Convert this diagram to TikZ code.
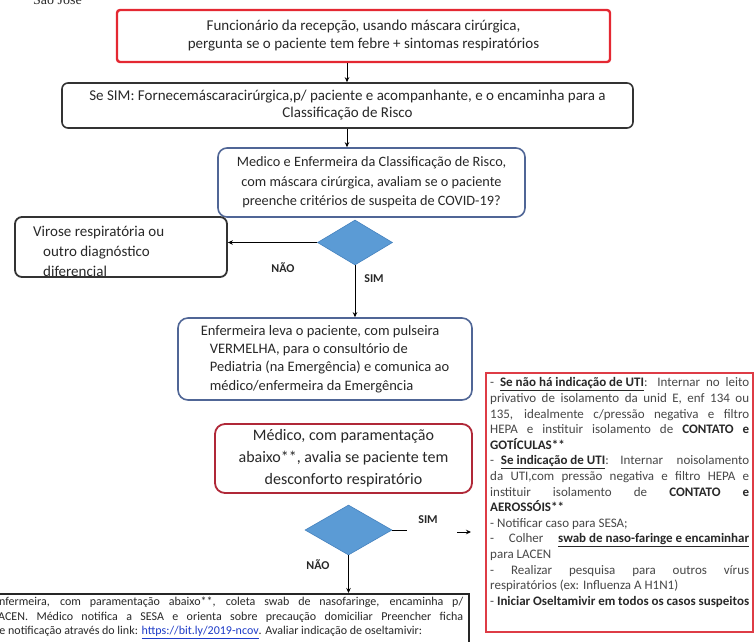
\documentclass[tikz,border=0pt]{standalone}
\usepackage{fontspec}
\setmainfont{Carlito}
\newfontfamily\serifx{Liberation Serif}
\usetikzlibrary{shapes.geometric,arrows.meta}
\definecolor{redA}{RGB}{228,40,50}
\definecolor{redB}{RGB}{176,40,56}
\definecolor{redC}{RGB}{222,60,70}
\definecolor{slate}{RGB}{80,102,150}
\definecolor{dia}{RGB}{91,155,213}
\definecolor{diaB}{RGB}{70,130,190}
\definecolor{txtc}{RGB}{40,40,40}
\definecolor{linkc}{RGB}{30,60,200}
\setlength{\parindent}{0pt}
\begin{document}
\begin{tikzpicture}[x=1pt,y=-1pt,
  box/.style={draw, fill=white, inner sep=0pt, text=txtc},
  conn/.style={draw=black, line width=0.9pt},
  arr/.style={conn, -{Stealth[length=5pt,width=4.5pt]}},
  lbl/.style={font=\fontsize{12}{14}\selectfont\bfseries, text=txtc, inner sep=0pt},
  dmd/.style={diamond, fill=dia, draw=diaB, line width=0.6pt, inner sep=0pt},
  txtblk/.style={anchor=north west, inner sep=0pt, align=left, text=txtc}]
\useasboundingbox (0,0) rectangle (754,641);
\clip (0,0) rectangle (754,641);

\node[anchor=base west, font=\serifx\fontsize{14}{15}\selectfont, text=txtc, inner sep=0pt] (sj) at (33,4) {São José};
\coordinate (ax) at (347,0);

\node[box, draw=redA, line width=2.4pt, rounded corners=3pt, minimum width=493pt, minimum height=52pt, align=center, font=\fontsize{15}{18}\selectfont] (b1) at (363.5,36) {Funcionário da recepção, usando máscara cirúrgica,\\pergunta se o paciente tem febre + sintomas respiratórios};

\node[box, draw=black!80, line width=1.6pt, rounded corners=6pt, minimum width=571pt, minimum height=45pt, align=center, font=\fontsize{15}{17}\selectfont] (b2) at (347.5,105.5) {Se SIM: Fornecemáscaracirúrgica,p/ paciente e acompanhante, e o encaminha para a\\Classificação de Risco};

\draw[arr] (b1.south -| ax) -- (b2.north -| ax);

\node[box, draw=slate, line width=1.6pt, rounded corners=9pt, minimum width=307pt, minimum height=69pt, align=center, font=\fontsize{14.3}{19.5}\selectfont] (b3) at (371.5,182.5) {Medico e Enfermeira da Classificação de Risco,\\com máscara cirúrgica, avaliam se o paciente\\preenche critérios de suspeita de COVID-19?};

\draw[arr] (b2.south -| ax) -- (b3.north -| ax);

\node[dmd, minimum width=75pt, minimum height=45pt] (d1) at (355,242.5) {};

\node[box, draw=black!80, line width=1.8pt, rounded corners=7pt, minimum width=212pt, minimum height=60pt] (b4) at (121,247) {};
\node[txtblk, font=\fontsize{15}{20}\selectfont] (b4t) at (33,226) {Virose respiratória ou\\\hspace*{10pt}outro diagnóstico\\\hspace*{10pt}diferencial};

\draw[arr] (d1.west) -- (d1.west -| b4.east);
\node[lbl] (n1) at (283,268) {NÃO};
\node[lbl] (s1) at (374,279) {SIM};

\node[box, draw=slate, line width=1.6pt, rounded corners=10pt, minimum width=294pt, minimum height=82pt, align=left, font=\fontsize{14.5}{18.3}\selectfont] (b5) at (325,359) {Enfermeira leva o paciente, com pulseira\\\hspace*{9pt}VERMELHA, para o consultório de\\\hspace*{9pt}Pediatria (na Emergência) e comunica ao\\\hspace*{9pt}médico/enfermeira da Emergência};

\draw[arr] (d1.south) -- (d1.south |- b5.north);

\node[box, draw=redB, line width=1.8pt, rounded corners=10pt, minimum width=257pt, minimum height=69pt, align=center, font=\fontsize{16}{22}\selectfont] (b6) at (343.5,458.5) {Médico, com paramentação\\abaixo**, avalia se paciente tem\\desconforto respiratório};

\node[dmd, minimum width=87pt, minimum height=50pt] (d2) at (348.5,530) {};
\coordinate (s2end) at (407,530);
\draw[conn] (d2.east) -- (s2end);
\node[lbl] (s2) at (428,520) {SIM};
\coordinate (a2s) at (457,532);
\coordinate (a2e) at (471,532);
\draw[arr] (a2s) -- (a2e);
\node[lbl] (n2) at (318,565) {NÃO};

\node[box, draw=black!85, line width=2pt, minimum width=488pt, minimum height=80pt, anchor=north west] (b7) at (-20,593) {};
\draw[arr] (d2.south) -- (d2.south |- b7.north);
\node[txtblk, font=\fontsize{12}{14.5}\selectfont] (b7t) at (-7,597) {\hbox to 470pt{Enfermeira, com paramentação abaixo**, coleta swab de nasofaringe, encaminha p/}\\\hbox to 470pt{LACEN. Médico notifica a SESA e orienta sobre precaução domiciliar Preencher ficha}\\de notificação através do link: {\color{linkc}\underline{https://bit.ly/2019-ncov}}. Avaliar indicação de oseltamivir:};

\node[box, draw=redC, line width=2pt, minimum width=267pt, minimum height=259pt, anchor=north west] (b8) at (485,372) {};
\node[txtblk, text=black!72, font=\fontsize{13}{15.6}\selectfont] (b8t) at (490,377.5) {%
\hbox to 259pt{- \textcolor{txtc}{\textbf{\underline{Se não há indicação de UTI}}}: Internar no leito}\\
\hbox to 259pt{privativo de isolamento da unid E, enf 134 ou}\\
\hbox to 259pt{135, idealmente c/pressão negativa e filtro}\\
\hbox to 259pt{HEPA e instituir isolamento de \textcolor{txtc}{\textbf{CONTATO e}}}\\
\textcolor{txtc}{\textbf{GOTÍCULAS**}}\\
\hbox to 259pt{- \textcolor{txtc}{\textbf{\underline{Se indicação de UTI}}}: Internar\ \ noisolamento}\\
\hbox to 259pt{da UTI,com pressão negativa e filtro HEPA e}\\
\hbox to 259pt{instituir isolamento de \textcolor{txtc}{\textbf{CONTATO e}}}\\
\textcolor{txtc}{\textbf{AEROSSÓIS**}}\\
- Notificar caso para SESA;\\
\hbox to 259pt{- Colher \textcolor{txtc}{\textbf{\underline{swab de naso-faringe e encaminhar}}}}\\
para LACEN\\
\hbox to 259pt{- Realizar pesquisa para outros vírus}\\
respiratórios (ex: Influenza A H1N1)\\
\hbox to 259pt{- \textcolor{txtc}{\textbf{Iniciar Oseltamivir em todos os casos suspeitos}}}};
\end{tikzpicture}
\end{document}
